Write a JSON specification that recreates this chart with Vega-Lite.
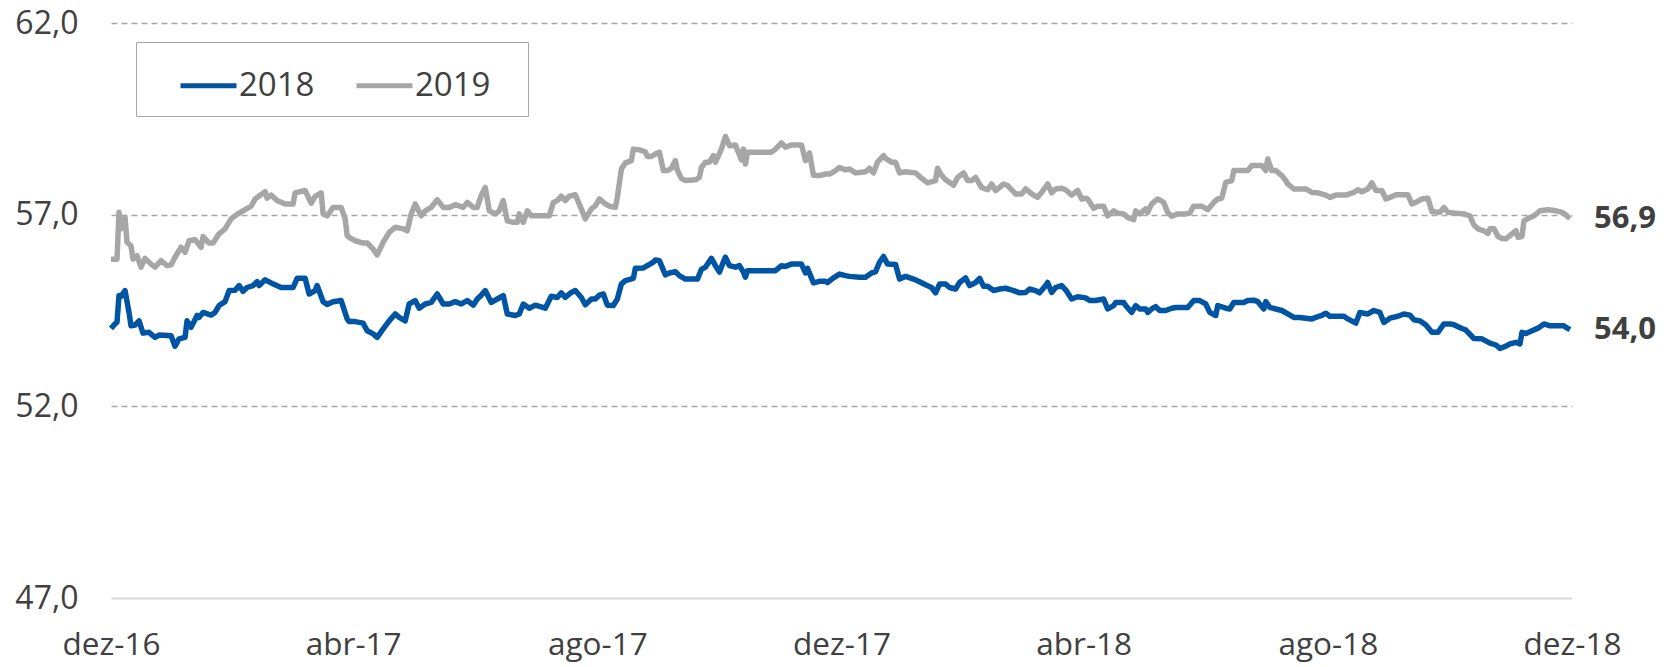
{
"$schema":"https://vega.github.io/schema/vega-lite/v6.json",
"autosize":{"type":"none"},
"padding":{"left":111,"top":23,"right":95,"bottom":69},
"width":1461,"height":575,
"config":{"view":{"stroke":null},"font":"Open Sans"},
"datasets":{
"s2019":[
{"date":"2016-12-01","value":55.84},{"date":"2016-12-04","value":55.84},{"date":"2016-12-05","value":57.06},{"date":"2016-12-06","value":56.63},{"date":"2016-12-08","value":56.93},{"date":"2016-12-09","value":56.28},{"date":"2016-12-11","value":56.19},{"date":"2016-12-12","value":55.84},{"date":"2016-12-14","value":55.93},{"date":"2016-12-16","value":55.63},{"date":"2016-12-18","value":55.86},{"date":"2016-12-21","value":55.71},{"date":"2016-12-23","value":55.63},{"date":"2016-12-26","value":55.80},{"date":"2016-12-29","value":55.67},{"date":"2016-12-31","value":55.69},
{"date":"2017-01-02","value":55.89},{"date":"2017-01-05","value":56.15},{"date":"2017-01-07","value":56.02},{"date":"2017-01-09","value":56.32},{"date":"2017-01-12","value":56.35},{"date":"2017-01-15","value":56.15},{"date":"2017-01-16","value":56.43},{"date":"2017-01-19","value":56.26},{"date":"2017-01-21","value":56.26},{"date":"2017-01-24","value":56.50},{"date":"2017-01-27","value":56.63},{"date":"2017-01-30","value":56.89},
{"date":"2017-02-01","value":56.97},{"date":"2017-02-03","value":57.04},{"date":"2017-02-06","value":57.13},{"date":"2017-02-09","value":57.22},{"date":"2017-02-11","value":57.41},{"date":"2017-02-16","value":57.60},{"date":"2017-02-17","value":57.43},{"date":"2017-02-19","value":57.51},{"date":"2017-02-22","value":57.37},{"date":"2017-02-26","value":57.28},
{"date":"2017-03-02","value":57.28},{"date":"2017-03-03","value":57.57},{"date":"2017-03-08","value":57.63},{"date":"2017-03-11","value":57.30},{"date":"2017-03-13","value":57.48},{"date":"2017-03-16","value":57.57},{"date":"2017-03-17","value":57.02},{"date":"2017-03-19","value":56.97},{"date":"2017-03-22","value":57.19},{"date":"2017-03-26","value":57.19},{"date":"2017-03-28","value":56.89},{"date":"2017-03-29","value":56.45},{"date":"2017-03-30","value":56.41},
{"date":"2017-04-02","value":56.32},{"date":"2017-04-06","value":56.26},{"date":"2017-04-08","value":56.26},{"date":"2017-04-11","value":56.10},{"date":"2017-04-13","value":55.95},{"date":"2017-04-16","value":56.28},{"date":"2017-04-19","value":56.54},{"date":"2017-04-22","value":56.67},{"date":"2017-04-26","value":56.63},{"date":"2017-04-28","value":56.58},{"date":"2017-04-30","value":57.02},
{"date":"2017-05-02","value":57.28},{"date":"2017-05-05","value":56.97},{"date":"2017-05-07","value":57.10},{"date":"2017-05-10","value":57.19},{"date":"2017-05-13","value":57.39},{"date":"2017-05-16","value":57.19},{"date":"2017-05-19","value":57.19},{"date":"2017-05-22","value":57.26},{"date":"2017-05-26","value":57.19},{"date":"2017-05-28","value":57.32},{"date":"2017-05-31","value":57.19},
{"date":"2017-06-02","value":57.19},{"date":"2017-06-04","value":57.50},{"date":"2017-06-06","value":57.71},{"date":"2017-06-08","value":57.10},{"date":"2017-06-11","value":57.02},{"date":"2017-06-13","value":57.10},{"date":"2017-06-15","value":57.37},{"date":"2017-06-17","value":56.84},{"date":"2017-06-20","value":56.80},{"date":"2017-06-22","value":56.80},{"date":"2017-06-23","value":57.02},{"date":"2017-06-25","value":56.80},{"date":"2017-06-27","value":57.10},{"date":"2017-06-29","value":56.97},
{"date":"2017-07-08","value":56.97},{"date":"2017-07-10","value":57.32},{"date":"2017-07-12","value":57.37},{"date":"2017-07-14","value":57.48},{"date":"2017-07-16","value":57.37},{"date":"2017-07-18","value":57.48},{"date":"2017-07-21","value":57.52},{"date":"2017-07-24","value":57.15},{"date":"2017-07-26","value":56.89},{"date":"2017-07-29","value":57.15},{"date":"2017-07-31","value":57.23},
{"date":"2017-08-02","value":57.41},{"date":"2017-08-05","value":57.28},{"date":"2017-08-07","value":57.22},{"date":"2017-08-10","value":57.19},{"date":"2017-08-11","value":57.45},{"date":"2017-08-13","value":58.19},{"date":"2017-08-15","value":58.35},{"date":"2017-08-18","value":58.41},{"date":"2017-08-19","value":58.71},{"date":"2017-08-22","value":58.69},{"date":"2017-08-25","value":58.64},{"date":"2017-08-26","value":58.52},{"date":"2017-08-28","value":58.52},{"date":"2017-08-30","value":58.58},
{"date":"2017-09-01","value":58.63},{"date":"2017-09-03","value":58.15},{"date":"2017-09-05","value":58.15},{"date":"2017-09-07","value":58.21},{"date":"2017-09-09","value":58.41},{"date":"2017-09-10","value":58.15},{"date":"2017-09-12","value":57.95},{"date":"2017-09-14","value":57.89},{"date":"2017-09-19","value":57.91},{"date":"2017-09-21","value":57.97},{"date":"2017-09-22","value":58.23},{"date":"2017-09-24","value":58.37},{"date":"2017-09-26","value":58.37},{"date":"2017-09-28","value":58.54},{"date":"2017-09-29","value":58.37},
{"date":"2017-10-02","value":58.71},{"date":"2017-10-04","value":59.04},{"date":"2017-10-06","value":58.80},{"date":"2017-10-09","value":58.82},{"date":"2017-10-12","value":58.43},{"date":"2017-10-13","value":58.71},{"date":"2017-10-14","value":58.32},{"date":"2017-10-15","value":58.63},{"date":"2017-10-27","value":58.63},{"date":"2017-10-29","value":58.71},
{"date":"2017-11-01","value":58.87},{"date":"2017-11-03","value":58.76},{"date":"2017-11-06","value":58.82},{"date":"2017-11-11","value":58.82},{"date":"2017-11-13","value":58.41},{"date":"2017-11-15","value":58.61},{"date":"2017-11-17","value":58.03},{"date":"2017-11-20","value":58.02},{"date":"2017-11-23","value":58.06},{"date":"2017-11-25","value":58.06},{"date":"2017-11-28","value":58.15},{"date":"2017-11-30","value":58.23},
{"date":"2017-12-03","value":58.17},{"date":"2017-12-05","value":58.19},{"date":"2017-12-08","value":58.09},{"date":"2017-12-10","value":58.10},{"date":"2017-12-13","value":58.12},{"date":"2017-12-15","value":58.21},{"date":"2017-12-17","value":58.09},{"date":"2017-12-19","value":58.37},{"date":"2017-12-22","value":58.54},{"date":"2017-12-23","value":58.47},{"date":"2017-12-26","value":58.37},{"date":"2017-12-28","value":58.37},{"date":"2017-12-30","value":58.09},
{"date":"2018-01-02","value":58.12},{"date":"2018-01-05","value":58.10},{"date":"2018-01-07","value":58.09},{"date":"2018-01-10","value":57.95},{"date":"2018-01-13","value":57.83},{"date":"2018-01-17","value":57.89},{"date":"2018-01-18","value":58.21},{"date":"2018-01-20","value":58.03},{"date":"2018-01-22","value":57.91},{"date":"2018-01-26","value":57.77},{"date":"2018-01-28","value":57.97},{"date":"2018-01-31","value":58.09},
{"date":"2018-02-02","value":57.89},{"date":"2018-02-04","value":57.89},{"date":"2018-02-06","value":57.97},{"date":"2018-02-09","value":57.71},{"date":"2018-02-12","value":57.65},{"date":"2018-02-14","value":57.80},{"date":"2018-02-16","value":57.63},{"date":"2018-02-20","value":57.80},{"date":"2018-02-22","value":57.76},{"date":"2018-02-26","value":57.54},
{"date":"2018-03-01","value":57.54},{"date":"2018-03-03","value":57.67},{"date":"2018-03-06","value":57.54},{"date":"2018-03-09","value":57.45},{"date":"2018-03-12","value":57.65},{"date":"2018-03-14","value":57.80},{"date":"2018-03-16","value":57.57},{"date":"2018-03-18","value":57.67},{"date":"2018-03-21","value":57.69},{"date":"2018-03-23","value":57.65},{"date":"2018-03-26","value":57.51},{"date":"2018-03-29","value":57.63},{"date":"2018-03-31","value":57.41},
{"date":"2018-04-02","value":57.43},{"date":"2018-04-03","value":57.41},{"date":"2018-04-06","value":57.17},{"date":"2018-04-08","value":57.22},{"date":"2018-04-11","value":57.22},{"date":"2018-04-13","value":56.97},{"date":"2018-04-16","value":57.10},{"date":"2018-04-18","value":57.04},{"date":"2018-04-21","value":57.02},{"date":"2018-04-23","value":56.93},{"date":"2018-04-26","value":56.87},{"date":"2018-04-27","value":57.10},{"date":"2018-04-29","value":57.02},
{"date":"2018-05-02","value":57.15},{"date":"2018-05-03","value":57.06},{"date":"2018-05-05","value":57.28},{"date":"2018-05-08","value":57.41},{"date":"2018-05-11","value":57.32},{"date":"2018-05-13","value":57.06},{"date":"2018-05-15","value":56.96},{"date":"2018-05-18","value":57.02},{"date":"2018-05-22","value":57.02},{"date":"2018-05-24","value":57.04},{"date":"2018-05-26","value":57.22},{"date":"2018-05-30","value":57.22},
{"date":"2018-06-02","value":57.13},{"date":"2018-06-05","value":57.32},{"date":"2018-06-07","value":57.41},{"date":"2018-06-09","value":57.43},{"date":"2018-06-11","value":57.84},{"date":"2018-06-14","value":57.89},{"date":"2018-06-15","value":58.15},{"date":"2018-06-22","value":58.15},{"date":"2018-06-24","value":58.28},{"date":"2018-06-29","value":58.28},
{"date":"2018-07-01","value":58.15},{"date":"2018-07-02","value":58.45},{"date":"2018-07-04","value":58.15},{"date":"2018-07-06","value":58.15},{"date":"2018-07-09","value":58.02},{"date":"2018-07-11","value":57.89},{"date":"2018-07-12","value":57.80},{"date":"2018-07-15","value":57.67},{"date":"2018-07-21","value":57.67},{"date":"2018-07-24","value":57.58},{"date":"2018-07-27","value":57.57},{"date":"2018-07-31","value":57.51},
{"date":"2018-08-02","value":57.45},{"date":"2018-08-05","value":57.51},{"date":"2018-08-10","value":57.51},{"date":"2018-08-14","value":57.58},{"date":"2018-08-16","value":57.65},{"date":"2018-08-18","value":57.60},{"date":"2018-08-21","value":57.67},{"date":"2018-08-23","value":57.83},{"date":"2018-08-25","value":57.63},{"date":"2018-08-28","value":57.63},{"date":"2018-08-30","value":57.41},
{"date":"2018-09-01","value":57.45},{"date":"2018-09-04","value":57.52},{"date":"2018-09-10","value":57.52},{"date":"2018-09-12","value":57.28},{"date":"2018-09-14","value":57.32},{"date":"2018-09-17","value":57.41},{"date":"2018-09-20","value":57.43},{"date":"2018-09-22","value":57.08},{"date":"2018-09-26","value":57.06},{"date":"2018-09-28","value":57.19},{"date":"2018-09-30","value":57.06},
{"date":"2018-10-04","value":57.04},{"date":"2018-10-08","value":57.02},{"date":"2018-10-11","value":56.97},{"date":"2018-10-13","value":56.73},{"date":"2018-10-15","value":56.63},{"date":"2018-10-18","value":56.58},{"date":"2018-10-20","value":56.51},{"date":"2018-10-21","value":56.63},{"date":"2018-10-23","value":56.64},{"date":"2018-10-25","value":56.43},{"date":"2018-10-27","value":56.38},{"date":"2018-10-29","value":56.37},
{"date":"2018-11-01","value":56.50},{"date":"2018-11-03","value":56.58},{"date":"2018-11-04","value":56.41},{"date":"2018-11-06","value":56.43},{"date":"2018-11-07","value":56.84},{"date":"2018-11-09","value":56.90},{"date":"2018-11-12","value":56.97},{"date":"2018-11-15","value":57.10},{"date":"2018-11-19","value":57.13},{"date":"2018-11-23","value":57.10},{"date":"2018-11-26","value":57.06},{"date":"2018-11-28","value":56.99},{"date":"2018-11-30","value":56.90}
],
"s2018":[
{"date":"2016-12-01","value":54.03},{"date":"2016-12-03","value":54.15},{"date":"2016-12-04","value":54.19},{"date":"2016-12-05","value":54.89},{"date":"2016-12-06","value":54.87},{"date":"2016-12-08","value":55.02},{"date":"2016-12-10","value":54.45},{"date":"2016-12-11","value":54.10},{"date":"2016-12-13","value":54.12},{"date":"2016-12-15","value":54.23},{"date":"2016-12-17","value":53.91},{"date":"2016-12-20","value":53.93},{"date":"2016-12-23","value":53.80},{"date":"2016-12-25","value":53.86},{"date":"2016-12-31","value":53.84},
{"date":"2017-01-02","value":53.57},{"date":"2017-01-04","value":53.76},{"date":"2017-01-07","value":53.80},{"date":"2017-01-08","value":54.23},{"date":"2017-01-10","value":54.06},{"date":"2017-01-13","value":54.37},{"date":"2017-01-14","value":54.32},{"date":"2017-01-16","value":54.45},{"date":"2017-01-20","value":54.38},{"date":"2017-01-22","value":54.45},{"date":"2017-01-24","value":54.63},{"date":"2017-01-27","value":54.73},{"date":"2017-01-29","value":55.02},
{"date":"2017-02-01","value":55.03},{"date":"2017-02-03","value":55.15},{"date":"2017-02-05","value":55.00},{"date":"2017-02-07","value":55.10},{"date":"2017-02-10","value":55.15},{"date":"2017-02-12","value":55.25},{"date":"2017-02-13","value":55.15},{"date":"2017-02-16","value":55.30},{"date":"2017-02-19","value":55.22},{"date":"2017-02-24","value":55.10},
{"date":"2017-03-02","value":55.10},{"date":"2017-03-04","value":55.34},{"date":"2017-03-08","value":55.34},{"date":"2017-03-10","value":54.93},{"date":"2017-03-13","value":55.02},{"date":"2017-03-14","value":55.15},{"date":"2017-03-17","value":54.73},{"date":"2017-03-19","value":54.66},{"date":"2017-03-22","value":54.73},{"date":"2017-03-26","value":54.76},{"date":"2017-03-29","value":54.28},{"date":"2017-03-30","value":54.21},
{"date":"2017-04-02","value":54.21},{"date":"2017-04-06","value":54.17},{"date":"2017-04-08","value":53.97},{"date":"2017-04-11","value":53.89},{"date":"2017-04-13","value":53.80},{"date":"2017-04-16","value":54.02},{"date":"2017-04-19","value":54.23},{"date":"2017-04-22","value":54.41},{"date":"2017-04-24","value":54.32},{"date":"2017-04-27","value":54.23},{"date":"2017-04-29","value":54.67},
{"date":"2017-05-02","value":54.76},{"date":"2017-05-04","value":54.56},{"date":"2017-05-07","value":54.67},{"date":"2017-05-10","value":54.71},{"date":"2017-05-13","value":54.93},{"date":"2017-05-16","value":54.67},{"date":"2017-05-19","value":54.67},{"date":"2017-05-22","value":54.73},{"date":"2017-05-25","value":54.67},{"date":"2017-05-28","value":54.76},{"date":"2017-05-31","value":54.64},
{"date":"2017-06-02","value":54.80},{"date":"2017-06-04","value":54.90},{"date":"2017-06-06","value":55.02},{"date":"2017-06-09","value":54.71},{"date":"2017-06-12","value":54.80},{"date":"2017-06-15","value":54.89},{"date":"2017-06-17","value":54.41},{"date":"2017-06-21","value":54.37},{"date":"2017-06-23","value":54.41},{"date":"2017-06-25","value":54.67},{"date":"2017-06-28","value":54.56},
{"date":"2017-07-01","value":54.64},{"date":"2017-07-06","value":54.56},{"date":"2017-07-09","value":54.87},{"date":"2017-07-12","value":54.84},{"date":"2017-07-14","value":54.96},{"date":"2017-07-16","value":54.84},{"date":"2017-07-19","value":54.97},{"date":"2017-07-21","value":55.02},{"date":"2017-07-24","value":54.84},{"date":"2017-07-26","value":54.65},{"date":"2017-07-29","value":54.80},{"date":"2017-07-31","value":54.80},
{"date":"2017-08-02","value":54.90},{"date":"2017-08-04","value":54.93},{"date":"2017-08-06","value":54.64},{"date":"2017-08-09","value":54.63},{"date":"2017-08-11","value":54.80},{"date":"2017-08-13","value":55.19},{"date":"2017-08-15","value":55.28},{"date":"2017-08-19","value":55.34},{"date":"2017-08-20","value":55.60},{"date":"2017-08-24","value":55.61},{"date":"2017-08-26","value":55.67},{"date":"2017-08-29","value":55.76},{"date":"2017-08-30","value":55.82},
{"date":"2017-09-01","value":55.80},{"date":"2017-09-04","value":55.43},{"date":"2017-09-06","value":55.48},{"date":"2017-09-09","value":55.51},{"date":"2017-09-11","value":55.41},{"date":"2017-09-14","value":55.32},{"date":"2017-09-20","value":55.32},{"date":"2017-09-22","value":55.57},{"date":"2017-09-24","value":55.63},{"date":"2017-09-27","value":55.86},{"date":"2017-09-29","value":55.67},
{"date":"2017-10-01","value":55.50},{"date":"2017-10-03","value":55.77},{"date":"2017-10-04","value":55.89},{"date":"2017-10-06","value":55.67},{"date":"2017-10-09","value":55.63},{"date":"2017-10-11","value":55.67},{"date":"2017-10-13","value":55.50},{"date":"2017-10-14","value":55.37},{"date":"2017-10-15","value":55.54},{"date":"2017-10-29","value":55.54},
{"date":"2017-11-01","value":55.67},{"date":"2017-11-03","value":55.65},{"date":"2017-11-06","value":55.71},{"date":"2017-11-11","value":55.71},{"date":"2017-11-13","value":55.48},{"date":"2017-11-14","value":55.60},{"date":"2017-11-17","value":55.22},{"date":"2017-11-20","value":55.26},{"date":"2017-11-23","value":55.26},{"date":"2017-11-24","value":55.23},{"date":"2017-11-27","value":55.35},{"date":"2017-11-30","value":55.45},
{"date":"2017-12-03","value":55.41},{"date":"2017-12-05","value":55.39},{"date":"2017-12-10","value":55.37},{"date":"2017-12-13","value":55.37},{"date":"2017-12-16","value":55.48},{"date":"2017-12-18","value":55.51},{"date":"2017-12-20","value":55.76},{"date":"2017-12-22","value":55.91},{"date":"2017-12-24","value":55.71},{"date":"2017-12-28","value":55.70},{"date":"2017-12-30","value":55.32},
{"date":"2018-01-02","value":55.39},{"date":"2018-01-06","value":55.32},{"date":"2018-01-09","value":55.25},{"date":"2018-01-12","value":55.17},{"date":"2018-01-15","value":55.10},{"date":"2018-01-17","value":54.96},{"date":"2018-01-19","value":55.19},{"date":"2018-01-22","value":55.19},{"date":"2018-01-24","value":55.10},{"date":"2018-01-27","value":55.06},{"date":"2018-01-29","value":55.23},
{"date":"2018-02-01","value":55.35},{"date":"2018-02-03","value":55.15},{"date":"2018-02-06","value":55.23},{"date":"2018-02-08","value":55.34},{"date":"2018-02-10","value":55.13},{"date":"2018-02-12","value":55.13},{"date":"2018-02-15","value":55.02},{"date":"2018-02-18","value":55.06},{"date":"2018-02-21","value":55.08},{"date":"2018-02-25","value":55.02},{"date":"2018-02-28","value":54.96},
{"date":"2018-03-03","value":54.97},{"date":"2018-03-05","value":55.06},{"date":"2018-03-08","value":55.02},{"date":"2018-03-10","value":54.96},{"date":"2018-03-13","value":55.15},{"date":"2018-03-14","value":55.23},{"date":"2018-03-16","value":54.97},{"date":"2018-03-18","value":55.10},{"date":"2018-03-21","value":55.15},{"date":"2018-03-23","value":55.04},{"date":"2018-03-26","value":54.80},{"date":"2018-03-29","value":54.86},
{"date":"2018-04-02","value":54.83},{"date":"2018-04-04","value":54.76},{"date":"2018-04-07","value":54.76},{"date":"2018-04-11","value":54.80},{"date":"2018-04-13","value":54.54},{"date":"2018-04-16","value":54.63},{"date":"2018-04-17","value":54.71},{"date":"2018-04-21","value":54.71},{"date":"2018-04-22","value":54.63},{"date":"2018-04-25","value":54.45},{"date":"2018-04-27","value":54.63},{"date":"2018-04-29","value":54.54},
{"date":"2018-05-02","value":54.54},{"date":"2018-05-03","value":54.45},{"date":"2018-05-05","value":54.54},{"date":"2018-05-07","value":54.60},{"date":"2018-05-09","value":54.50},{"date":"2018-05-12","value":54.50},{"date":"2018-05-15","value":54.56},{"date":"2018-05-17","value":54.58},{"date":"2018-05-23","value":54.58},{"date":"2018-05-26","value":54.76},{"date":"2018-05-29","value":54.76},
{"date":"2018-06-01","value":54.67},{"date":"2018-06-03","value":54.45},{"date":"2018-06-06","value":54.37},{"date":"2018-06-07","value":54.63},{"date":"2018-06-11","value":54.56},{"date":"2018-06-13","value":54.54},{"date":"2018-06-15","value":54.71},{"date":"2018-06-20","value":54.71},{"date":"2018-06-22","value":54.76},{"date":"2018-06-25","value":54.77},{"date":"2018-06-27","value":54.73},{"date":"2018-06-30","value":54.54},
{"date":"2018-07-01","value":54.73},{"date":"2018-07-03","value":54.58},{"date":"2018-07-06","value":54.54},{"date":"2018-07-09","value":54.50},{"date":"2018-07-12","value":54.41},{"date":"2018-07-15","value":54.32},{"date":"2018-07-18","value":54.32},{"date":"2018-07-21","value":54.30},{"date":"2018-07-24","value":54.28},{"date":"2018-07-26","value":54.32},{"date":"2018-07-29","value":54.37},{"date":"2018-07-31","value":54.43},
{"date":"2018-08-02","value":54.35},{"date":"2018-08-09","value":54.35},{"date":"2018-08-11","value":54.28},{"date":"2018-08-15","value":54.17},{"date":"2018-08-17","value":54.45},{"date":"2018-08-19","value":54.43},{"date":"2018-08-21","value":54.41},{"date":"2018-08-24","value":54.50},{"date":"2018-08-27","value":54.45},{"date":"2018-08-29","value":54.19},
{"date":"2018-09-01","value":54.30},{"date":"2018-09-05","value":54.35},{"date":"2018-09-08","value":54.41},{"date":"2018-09-11","value":54.38},{"date":"2018-09-13","value":54.26},{"date":"2018-09-16","value":54.23},{"date":"2018-09-19","value":54.12},{"date":"2018-09-22","value":53.93},{"date":"2018-09-25","value":53.93},{"date":"2018-09-28","value":54.15},
{"date":"2018-10-01","value":54.15},{"date":"2018-10-03","value":54.13},{"date":"2018-10-07","value":54.03},{"date":"2018-10-09","value":53.99},{"date":"2018-10-13","value":53.77},{"date":"2018-10-17","value":53.76},{"date":"2018-10-21","value":53.65},{"date":"2018-10-24","value":53.60},{"date":"2018-10-26","value":53.51},{"date":"2018-10-29","value":53.57},{"date":"2018-10-31","value":53.63},
{"date":"2018-11-03","value":53.67},{"date":"2018-11-05","value":53.63},{"date":"2018-11-06","value":53.93},{"date":"2018-11-08","value":53.90},{"date":"2018-11-11","value":53.97},{"date":"2018-11-14","value":54.04},{"date":"2018-11-17","value":54.15},{"date":"2018-11-20","value":54.10},{"date":"2018-11-27","value":54.10},{"date":"2018-11-28","value":54.06},{"date":"2018-11-30","value":54.00}
],
"ends":[
{"date":"2018-11-30","serie":"2018","value":54.0,"label":"54,0"},
{"date":"2018-11-30","serie":"2019","value":56.9,"label":"56,9"}
]
},
"encoding":{
"x":{"field":"date","type":"temporal","title":null,
"scale":{"type":"utc","domain":[{"year":2016,"month":12,"date":1,"utc":true},{"year":2018,"month":12,"date":1,"utc":true}]},
"axis":{"values":[{"year":2016,"month":12,"date":1,"utc":true},{"year":2017,"month":4,"date":1,"utc":true},{"year":2017,"month":8,"date":1,"utc":true},{"year":2017,"month":12,"date":1,"utc":true},{"year":2018,"month":4,"date":1,"utc":true},{"year":2018,"month":8,"date":1,"utc":true},{"year":2018,"month":12,"date":1,"utc":true}],
"labelExpr":"['jan','fev','mar','abr','mai','jun','jul','ago','set','out','nov','dez'][utcmonth(datum.value)] + '-' + utcFormat(datum.value, '%y')",
"grid":false,"ticks":false,"domain":true,"domainColor":"#D9D9D9","domainWidth":2,"zindex":1,
"labelFont":"Open Sans","labelFontSize":31.5,"labelColor":"#404040","labelPadding":31,"labelFlush":false,"labelOverlap":false}},
"y":{"field":"value","type":"quantitative","title":null,
"scale":{"domain":[47,62],"nice":false,"zero":false},
"axis":{"values":[47,52,57,62],"labelExpr":"replace(format(datum.value,'.1f'),'.',',')",
"grid":true,"gridDash":[6,4],"gridColor":"#A6A6A6","gridWidth":1.3,
"gridOpacity":{"condition":{"test":"datum.value === 47","value":0},"value":1},
"domain":false,"ticks":false,"labelFont":"Open Sans","labelFontSize":32,"labelColor":"#404040","labelPadding":33}}
},
"layer":[
{"data":{"name":"s2019"},"transform":[{"calculate":"'2019'","as":"serie"}],
"mark":{"type":"line","strokeWidth":5.5,"strokeJoin":"round"},
"encoding":{"color":{"field":"serie","type":"nominal","scale":{"domain":["2018","2019"],"range":["#0054A4","#A6A6A6"]},
"legend":{"title":null,"orient":"none","legendX":25,"legendY":19,"direction":"horizontal","symbolType":"stroke","symbolSize":3136,"symbolStrokeWidth":5,"symbolOffset":29,"labelFont":"Open Sans","labelFontSize":33,"labelColor":"#404040","labelOffset":0,"columnPadding":10,"padding":13,"strokeColor":"#A6A6A6","fillColor":"white",
"labelExpr":"(datum.label == '2019' || datum.value == '2019') ? '2019\u2800' : datum.label"}}}},
{"data":{"name":"s2018"},"transform":[{"calculate":"'2018'","as":"serie"}],
"mark":{"type":"line","strokeWidth":5.5,"strokeJoin":"round"},
"encoding":{"color":{"field":"serie","type":"nominal"}}},
{"data":{"name":"ends"},
"mark":{"type":"text","align":"left","baseline":"middle","dx":24,"font":"Open Sans","fontWeight":"bold","fontSize":31,"color":"#404040"},
"encoding":{"text":{"field":"label"}}}
]
}
